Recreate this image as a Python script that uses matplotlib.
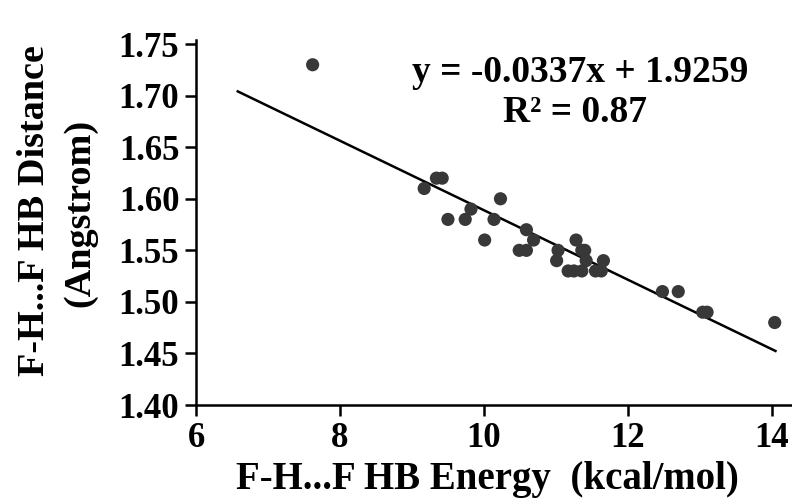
import numpy as np
import matplotlib.pyplot as plt

# HB energy (kcal/mol) vs F-H...F distance (Angstrom)
energy = [7.62, 9.17, 9.34, 9.42, 9.50, 9.74, 9.82, 10.01, 10.14, 10.23,
          10.49, 10.59, 10.59, 10.69, 11.03, 11.01, 11.17, 11.25, 11.36,
          11.28, 11.36, 11.40, 11.42, 11.55, 11.63, 11.66, 12.48, 12.70,
          13.04, 13.10, 14.04]
distance = [1.73, 1.61, 1.62, 1.62, 1.58, 1.58, 1.59, 1.56, 1.58, 1.60,
            1.55, 1.55, 1.57, 1.56, 1.55, 1.54, 1.53, 1.53, 1.53,
            1.56, 1.55, 1.55, 1.54, 1.53, 1.53, 1.54, 1.51, 1.51,
            1.49, 1.49, 1.48]

slope = -0.0337
intercept = 1.9259
fit_x = np.array([6.58, 14.05])

xticks = [6, 8, 10, 12, 14]
yticks = [1.40, 1.45, 1.50, 1.55, 1.60, 1.65, 1.70, 1.75]

plt.rcParams['font.family'] = ['Liberation Serif', 'DejaVu Serif']
plt.rcParams['font.weight'] = 'bold'

fig = plt.figure(figsize=(7.92, 5.0), dpi=100)
ax = fig.add_axes([0.2475, 0.19, 0.7525, 0.73])

ax.scatter(energy, distance, s=90, color='#383838', edgecolors='none', zorder=3)
ax.plot(fit_x, slope * fit_x + intercept, color='black', lw=1.8, zorder=2)

ax.set_xlim(6, 14.28)
ax.set_ylim(1.40, 1.754)
ax.set_xticks(xticks)
ax.set_yticks(yticks)
ax.set_yticklabels(['%.2f' % v for v in yticks])

for s in ['top', 'right']:
    ax.spines[s].set_visible(False)
for s in ['left', 'bottom']:
    ax.spines[s].set_linewidth(1.8)

ax.tick_params(direction='out', length=8, width=1.8, labelsize=25, pad=4)
for lab in ax.get_xticklabels() + ax.get_yticklabels():
    lab.set_fontweight('bold')

fig.text(580 / 792, 1 - 73 / 500, 'y = -0.0337x + 1.9259', ha='center', va='center',
         fontsize=27, fontweight='bold')
fig.text(575 / 792, 1 - 112 / 500, 'R² = 0.87', ha='center', va='center',
         fontsize=27, fontweight='bold')

fig.text(487 / 792, 1 - 480 / 500, 'F-H...F HB Energy  (kcal/mol)', ha='center',
         va='center', fontsize=28, fontweight='bold')
fig.text(35 / 792, 1 - 211 / 500, 'F-H...F HB Distance', ha='center', va='center',
         rotation=90, fontsize=27.5, fontweight='bold')
fig.text(80 / 792, 1 - 213 / 500, '(Angstrom)', ha='center', va='center',
         rotation=90, fontsize=27.5, fontweight='bold')

fig.savefig('out.png', dpi=100)
